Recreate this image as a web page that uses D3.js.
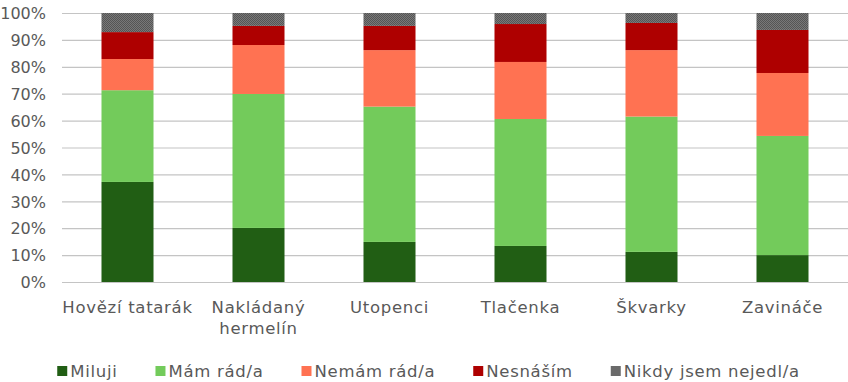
<!DOCTYPE html>
<html>
<head>
<meta charset="utf-8">
<script src="https://cdn.jsdelivr.net/npm/d3@7"></script>
<style>
  html, body { margin: 0; padding: 0; background: #fff; }
  svg { display: block; }
  text { font-family: "DejaVu Sans", sans-serif; fill: #595959; }
</style>
</head>
<body>
<svg id="chart" width="848" height="382"></svg>
<script>
const categories = ["Hovězí tatarák", "Nakládaný hermelín", "Utopenci", "Tlačenka", "Škvarky", "Zavináče"];
const categoryLines = [["Hovězí tatarák"], ["Nakládaný", "hermelín"], ["Utopenci"], ["Tlačenka"], ["Škvarky"], ["Zavináče"]];
const seriesNames = ["Miluji", "Mám rád/a", "Nemám rád/a", "Nesnáším", "Nikdy jsem nejedl/a"];
const miluji   = [37.2, 20.1, 14.9, 13.4, 11.2, 10.0];
const mamRad   = [34.1, 49.8, 50.3, 47.2, 50.3, 44.3];
const nemamRad = [11.6, 18.2, 21.0, 21.2, 24.7, 23.4];
const nesnasim = [10.0,  7.1,  9.0, 14.1, 10.1, 16.0];
const nikdy    = [ 7.1,  4.8,  4.8,  4.1,  3.7,  6.3];
const yTicks = [0, 0.1, 0.2, 0.3, 0.4, 0.5, 0.6, 0.7, 0.8, 0.9, 1.0];
const colors = ["#215E14", "#73CB5B", "#FF7252", "#AE0000", "url(#hatch)"];
const legendColors = ["#215E14", "#73CB5B", "#FF7252", "#AE0000", "#6a6a6a"];

const seriesValues = [miluji, mamRad, nemamRad, nesnasim, nikdy];
const rows = categories.map((c, i) => {
  const r = { cat: c };
  seriesNames.forEach((s, k) => r[s] = seriesValues[k][i]);
  return r;
});

const svg = d3.select("#chart");
const defs = svg.append("defs");
const pat = defs.append("pattern").attr("id", "hatch").attr("patternUnits", "userSpaceOnUse")
  .attr("width", 2).attr("height", 2);
pat.append("rect").attr("width", 2).attr("height", 2).attr("fill", "#787878");
pat.append("rect").attr("width", 1).attr("height", 1).attr("fill", "#555555");
pat.append("rect").attr("x", 1).attr("y", 1).attr("width", 1).attr("height", 1).attr("fill", "#555555");

const x = d3.scaleBand().domain(categories).range([62, 848]).paddingInner(0.603).paddingOuter(0.3015);
const y = d3.scaleLinear().domain([0, 1]).range([282, 13]);

// gridlines
const grid = d3.axisLeft(y).tickValues(yTicks).tickSize(-(848 - 62)).tickFormat("");
svg.append("g").attr("transform", "translate(62,0)").call(grid)
  .call(g => g.select(".domain").remove())
  .call(g => g.selectAll("line").attr("stroke", "#c4c4c4").attr("stroke-width", 1.2));

// y labels
const yAxis = d3.axisLeft(y).tickValues(yTicks).tickSize(0).tickPadding(0).tickFormat(d3.format(".0%"));
svg.append("g").attr("transform", "translate(46,0)").call(yAxis)
  .call(g => g.select(".domain").remove())
  .call(g => g.selectAll("text").style("font-size", "16px").attr("fill", "#595959").attr("dy", "0.36em"));

// bars
const stack = d3.stack().keys(seriesNames).offset(d3.stackOffsetExpand);
const stacked = stack(rows);
svg.append("g").selectAll("g").data(stacked).join("g")
  .attr("fill", (d, i) => colors[i])
  .selectAll("rect").data(d => d).join("rect")
  .attr("x", d => x(d.data.cat))
  .attr("width", x.bandwidth())
  .attr("y", d => y(d[1]))
  .attr("height", d => y(d[0]) - y(d[1]));

// category labels
const xAxis = d3.axisBottom(x).tickSize(0).tickFormat("");
const xg = svg.append("g").attr("transform", "translate(0,282)").call(xAxis);
xg.select(".domain").remove();
xg.selectAll(".tick").each(function(d, i) {
  const t = d3.select(this).append("text").attr("text-anchor", "middle")
    .style("font-size", "16.5px").style("letter-spacing", "0.7px").attr("fill", "#595959");
  categoryLines[i].forEach((line, j) => {
    t.append("tspan").attr("x", 0).attr("y", 31 + j * 21).text(line);
  });
});

// legend
const legend = svg.append("g");
const items = legend.selectAll("g").data(seriesNames).join("g");
items.append("rect").attr("width", 10).attr("height", 10).attr("y", 366).attr("fill", (d, i) => legendColors[i]);
items.append("text").attr("x", 13).attr("y", 376.5)
  .style("font-size", "16.5px").style("letter-spacing", "0.7px").text(d => d);
const widths = items.nodes().map(n => d3.select(n).select("text").node().getComputedTextLength() + 13);
const gap = 38;
const total = d3.sum(widths) + gap * (widths.length - 1);
let cx = 428.5 - total / 2;
items.each(function(d, i) {
  d3.select(this).attr("transform", `translate(${cx},0)`);
  cx += widths[i] + gap;
});
</script>
</body>
</html>
